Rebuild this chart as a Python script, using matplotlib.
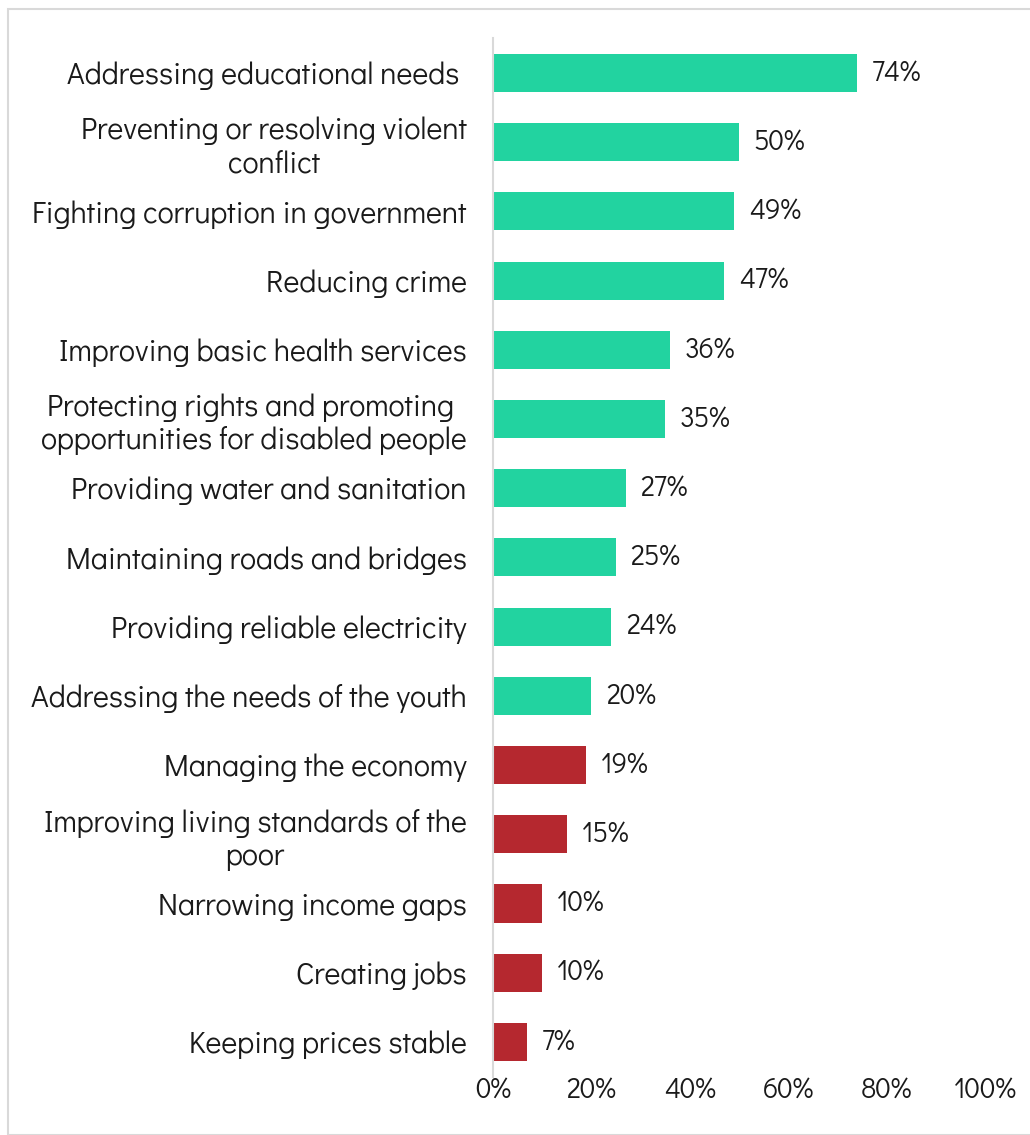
import matplotlib.pyplot as plt
from matplotlib.patches import Rectangle

labels = [
    "Addressing educational needs ",
    "Preventing or resolving violent\nconflict",
    "Fighting corruption in government",
    "Reducing crime",
    "Improving basic health services",
    "Protecting rights and promoting \nopportunities for disabled people",
    "Providing water and sanitation",
    "Maintaining roads and bridges",
    "Providing reliable electricity",
    "Addressing the needs of the youth",
    "Managing the economy",
    "Improving living standards of the\npoor",
    "Narrowing income gaps",
    "Creating jobs",
    "Keeping prices stable",
]
values = [74, 50, 49, 47, 36, 35, 27, 25, 24, 20, 19, 15, 10, 10, 7]
n_good = 10  # first ten get the green colour, rest red

green = "#22D3A0"
red = "#B5282F"
txt = "#1a1a1a"

plt.rcParams['font.family'] = ['Didact Gothic', 'Questrial', 'TeX Gyre Adventor', 'DejaVu Sans']

fig = plt.figure(figsize=(10.3, 11.35), dpi=100)
fig.patches.append(Rectangle((8/1030, 0), 1.0, 1 - 9/1135, transform=fig.transFigure,
                             fill=False, edgecolor="#d9d9d9", linewidth=1.5))
ax = fig.add_axes([493/1030, 0.0515, 492/1030, 0.9147])

ypos = list(range(len(values)))
colors = [green if i < n_good else red for i in range(len(values))]
ax.barh(ypos, values, height=0.55, color=colors)
ax.set_ylim(len(values) - 0.5, -0.5)
ax.set_xlim(0, 100)

for y, v in zip(ypos, values):
    ax.text(v + 3.0, y, f"{v}%", va="center", ha="left", fontsize=20, color=txt)

ax.set_yticks(ypos)
ax.set_yticklabels(labels, fontsize=21.8, color=txt, multialignment="center", linespacing=1.2)
ax.set_xticks([0, 20, 40, 60, 80, 100])
ax.set_xticklabels([f"{t}%" for t in [0, 20, 40, 60, 80, 100]], fontsize=20, color=txt)
ax.tick_params(axis="y", length=0, pad=19)
ax.tick_params(axis="x", length=0, pad=0)

for s in ["top", "right", "bottom"]:
    ax.spines[s].set_visible(False)
ax.spines["left"].set_color("#d9d9d9")
ax.spines["left"].set_linewidth(1.5)

fig.savefig("out.png", dpi=100)
